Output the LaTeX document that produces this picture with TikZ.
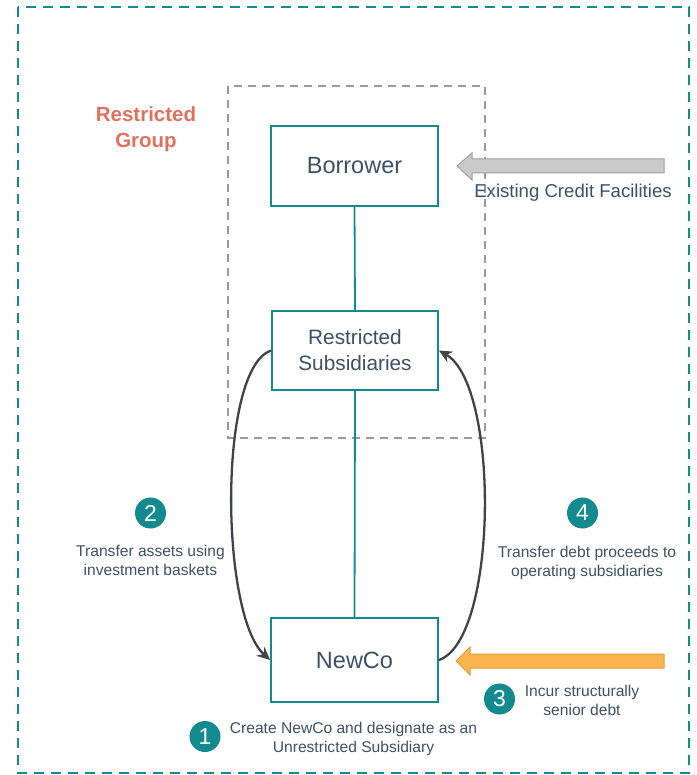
\documentclass[tikz,border=0pt]{standalone}
\usepackage{fontspec}
\setmainfont{Liberation Sans}
\usetikzlibrary{arrows.meta}
\definecolor{teal1}{HTML}{138B8E}
\definecolor{ink}{HTML}{3D5166}
\definecolor{salmon}{HTML}{E2705E}
\definecolor{frame}{HTML}{9A9A9A}
\definecolor{curve}{HTML}{404347}
\definecolor{greyfill}{HTML}{CACACA}
\definecolor{greyedge}{HTML}{A0A0A0}
\definecolor{orangefill}{HTML}{FBB44E}
\definecolor{orangeedge}{HTML}{E39C3A}
\begin{document}
\begin{tikzpicture}[x=1pt,y=-1pt,
  entity/.style={draw=teal1,line width=1.8pt,fill=white,inner sep=0pt,
    text=ink,align=center,font=\fontsize{23.5}{27}\selectfont},
  link/.style={draw=teal1,line width=1.8pt},
  flow/.style={draw=curve,line width=2.3pt,-{Stealth[length=13pt,width=12pt]}},
  note/.style={text=ink,align=center,font=\fontsize{15.6}{19}\selectfont},
  badge/.style={circle,fill=teal1,text=white,minimum size=31pt,inner sep=0pt,
    font=\fontsize{23}{23}\selectfont}]
\useasboundingbox (0,0) rectangle (696,775);

% outer boundary and restricted group boundary
\draw[teal1,line width=2.2pt,dash pattern=on 10pt off 7pt] (18,7) rectangle (689,773);
\draw[frame,line width=2pt,dash pattern=on 8pt off 6pt] (228,86) rectangle (485,438);
\node[text=salmon,align=center,font=\bfseries\fontsize{20.5}{26}\selectfont] (rg) at (146,129) {Restricted\\Group};

% entities
\node[entity,minimum width=167pt,minimum height=80pt] (borrower) at (354.5,166) {Borrower};
\node[entity,minimum width=166pt,minimum height=79pt,font=\fontsize{20.8}{26}\selectfont] (rsubs) at (355,350.5) {Restricted\\Subsidiaries};
\node[entity,minimum width=167pt,minimum height=84pt] (newco) at (354.5,660) {NewCo};

\draw[link] (borrower.south) -- (rsubs.north);
\draw[link] (rsubs.south) -- (newco.north);

% transfers between restricted subsidiaries and NewCo
\draw[flow] (rsubs.west) .. controls (218,368) and (220,615) .. (newco.west);
\draw[flow] (newco.east) .. controls (498,640) and (500,385) .. (rsubs.east);

% existing credit facilities arrow
\coordinate (ecTip) at (457,166);
\draw[greyedge,fill=greyfill,line width=1pt]
  (ecTip) -- (472,153) -- (472,159) -- (664,159) -- (664,173) -- (472,173) -- (472,180) -- cycle;
\node[note,font=\fontsize{18.6}{22}\selectfont,anchor=base] (ec) at (573,198) {Existing Credit Facilities};

% structurally senior debt arrow
\coordinate (sdTip) at (456,661);
\draw[orangeedge,fill=orangefill,line width=1pt]
  (sdTip) -- (470,647) -- (470,654) -- (664,654) -- (664,668) -- (470,668) -- (470,675) -- cycle;

% numbered steps
\node[badge] (b1) at (205,736.5) {1};
\node[note] (t1) at (353.5,739) {Create NewCo and designate as an\\Unrestricted Subsidiary};

\node[badge] (b2) at (150.5,513) {2};
\node[note] (t2) at (150.5,560) {Transfer assets using\\investment baskets};

\node[badge] (b3) at (499.5,699) {3};
\node[note] (t3) at (582,700) {Incur structurally\\senior debt};

\node[badge] (b4) at (582.5,513) {4};
\node[note] (t4) at (587,563) {Transfer debt proceeds to\\operating subsidiaries};
\end{tikzpicture}
\end{document}
